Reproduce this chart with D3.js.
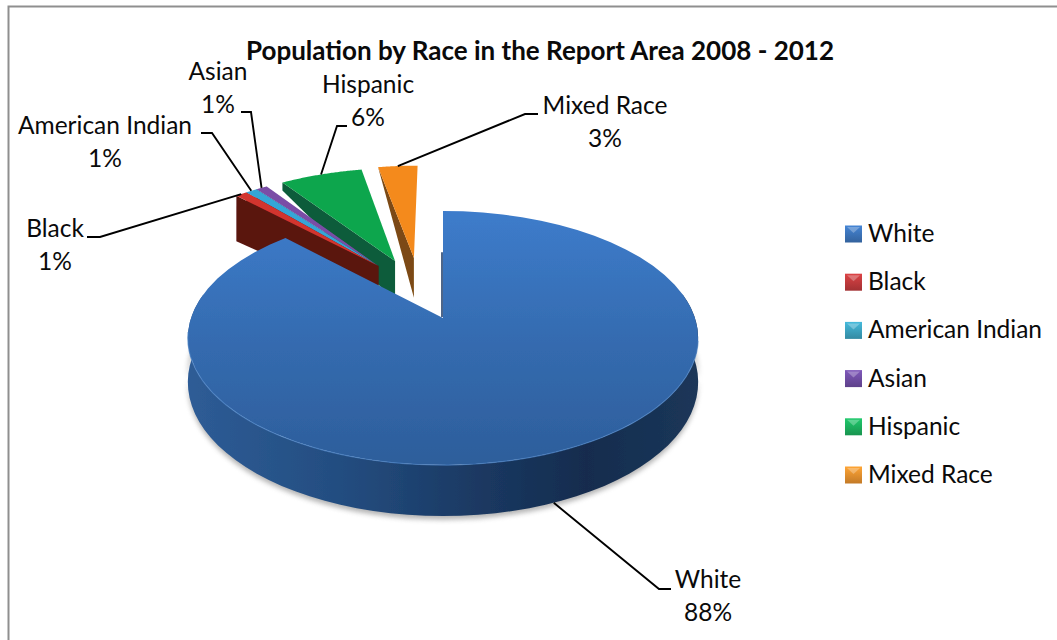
<!DOCTYPE html>
<html><head><meta charset="utf-8">
<style>html,body{margin:0;padding:0;background:#fff}svg{display:block}text{font-family:Lato,"Open Sans",sans-serif;fill:#0a0a0a}</style>
<script src="https://cdn.jsdelivr.net/npm/d3@7/dist/d3.min.js"></script>
</head><body>
<script>
// ---- data ----
const titleText = "Population by Race in the Report Area 2008 - 2012";
const categories = ["White","Black","American Indian","Asian","Hispanic","Mixed Race"];
const values = [87.75,0.9,0.9,0.9,6.45,3.1];

// ---- styling / layout ----
const topColors  = ["url(#whiteTop)","#d2342f","#35a6d6","#7a4ea6","#0ea64e","#f48a1e"];
const faceColors = ["#1f3f6b","#5a1411","#5a1411","#5a1411","#0b5b3a","#7b4912"];
const swatchColors = ["#3a6fb2","#b8383a","#3a9cb8","#6a4a9c","#1ba85a","#dd8a2c"];
const explodeX = [0,-0.275,-0.275,-0.275,-0.205,-0.125];
const explodeY = [0,0.45,0.45,0.45,0.495,0.525];
const faceOuterDepth = [0,1.25,1.25,1.25,0.22,0];
const labelCx = [708,55,105,218,368,605];
const labelBase = [588,237,134,80,93,114];
const labelGap = 33;
const elbowX = [659,100,212,251,337,525];
const elbowY = [589,237,133,112,126,114];
const endX = [671,87,201,241,347,538];

const W=1057,H=640, cx=443, cy=318, R=252, S=123.9, k=0.1575, D=43;
const project=(X,Y,z=0)=>{const d=1+k*Y;return [cx+R*X/d, cy-S*Y/d+D*z/d];};

const svg=d3.select("body").append("svg").attr("width",W).attr("height",H);
const defs=svg.append("defs");
function grad(id,x2,y2,stops){const g=defs.append("linearGradient").attr("id",id).attr("x1",0).attr("y1",0).attr("x2",x2).attr("y2",y2);
  stops.forEach(s=>g.append("stop").attr("offset",s[0]).attr("stop-color",s[1]));}
grad("whiteTop",0,1,[[0,"#3d7ccb"],[0.55,"#346aae"],[1,"#2d5e9b"]]);
grad("whiteSide",1,0,[[0,"#2e5c96"],[0.3,"#234d80"],[0.55,"#1b3a64"],[0.78,"#152c4e"],[1,"#1b3759"]]);
defs.append("filter").attr("id","soft").attr("x","-10%").attr("y","-30%").attr("width","120%").attr("height","160%")
  .append("feGaussianBlur").attr("stdDeviation",2.5);
defs.append("filter").attr("id","aa").attr("x","-5%").attr("y","-5%").attr("width","110%").attr("height","110%")
  .append("feGaussianBlur").attr("stdDeviation",0.45);
categories.forEach((c,i)=>grad("sw"+i,0,1,[[0,d3.color(swatchColors[i]).brighter(0.5)],[1,d3.color(swatchColors[i]).darker(0.35)]]));

// frame (top + left only, the crop cuts the others)
svg.append("path").attr("d",`M${W},6.5H8.5V${H}`).attr("fill","none").attr("stroke","#8f8f8f").attr("stroke-width",2);

svg.append("text").attr("x",540).attr("y",60).attr("text-anchor","middle").attr("font-weight",700).attr("font-size",26).text(titleText);

const arcs=d3.pie().sort(null).value(d=>d)(values);
const line=d3.line();
const pie=svg.append("g").attr("filter","url(#aa)");
const rim=(a,i,z=0)=>project(explodeX[i]+Math.sin(a),explodeY[i]+Math.cos(a),z);
const apex=(i,z=0)=>project(explodeX[i],explodeY[i],z);
const sweep=(a0,a1,i,z=0)=>d3.range(0,61).map(t=>rim(a0+(a1-a0)*t/60,i,z));

// exploded slices, back to front
d3.range(categories.length-1,0,-1).forEach(i=>{
  const a=arcs[i];
  const c=rim(a.startAngle,i), p=apex(i), pb=apex(i,1);
  const cb=[c[0],c[1]+faceOuterDepth[i]*D/(1+k*(explodeY[i]+Math.cos(a.startAngle)))];
  pie.append("path").attr("d",line([c,cb,pb,p])+"Z").attr("fill",faceColors[i]);
  pie.append("path").attr("d",line([...sweep(a.startAngle,a.endAngle,i),p])+"Z").attr("fill",topColors[i]);
});

// white slice: soft shadow, side wall, top
const white=arcs[0];
const a0=Math.PI/2-0.2,a1=3*Math.PI/2+0.2;
svg.insert("path","g").attr("d",line([...sweep(a0,a1,0,0.8),...sweep(a1,a0,0,1.07)])+"Z").attr("fill","#777").attr("opacity",0.55).attr("filter","url(#soft)");
pie.append("path").attr("d",line([...sweep(a0,a1,0),...sweep(a1,a0,0,1)])+"Z").attr("fill","url(#whiteSide)");
pie.append("path").attr("d",line([...sweep(white.startAngle,white.endAngle,0),apex(0)])+"Z").attr("fill",topColors[0]);
pie.append("path").attr("d",line(sweep(1.75,4.6,0))).attr("fill","none").attr("stroke","#4a82c4").attr("stroke-width",1.2).attr("opacity",0.7);
const cutA=project(0,0.58), cutB=apex(0);
pie.append("path").attr("d",line([[cutA[0]-1,cutA[1]],[cutB[0]-1,cutB[1]-1]])).attr("stroke",faceColors[0]).attr("stroke-width",1.6);

// leader lines + labels
categories.forEach((c,i)=>{
  const a=arcs[i], mid=(a.startAngle+a.endAngle)/2;
  const s=rim(mid,i,i===0?1:0);
  svg.append("path").attr("d",line([s,[elbowX[i],elbowY[i]],[endX[i],elbowY[i]]]))
    .attr("fill","none").attr("stroke","#000").attr("stroke-width",1.9);
  svg.append("text").attr("x",labelCx[i]).attr("y",labelBase[i]).attr("text-anchor","middle").attr("font-size",24.5).text(c);
  svg.append("text").attr("x",labelCx[i]).attr("y",labelBase[i]+labelGap).attr("text-anchor","middle").attr("font-size",24.5).text(Math.round(values[i])+"%");
});

// legend
const legendY=d3.scalePoint().domain(categories).range([234,475]);
const lg=svg.selectAll("g.lg").data(categories).join("g").attr("class","lg").attr("transform",d=>`translate(845,${legendY(d)})`);
lg.append("rect").attr("x",0).attr("y",-8.5).attr("width",17).attr("height",17).attr("fill",(d,i)=>`url(#sw${i})`);
lg.append("path").attr("d","M2,-7H15L8.5,-1Z").attr("fill","#fff").attr("opacity",0.28);
lg.append("text").attr("x",23).attr("y",8).attr("font-size",24.5).text(d=>d);
</script>
</body></html>
